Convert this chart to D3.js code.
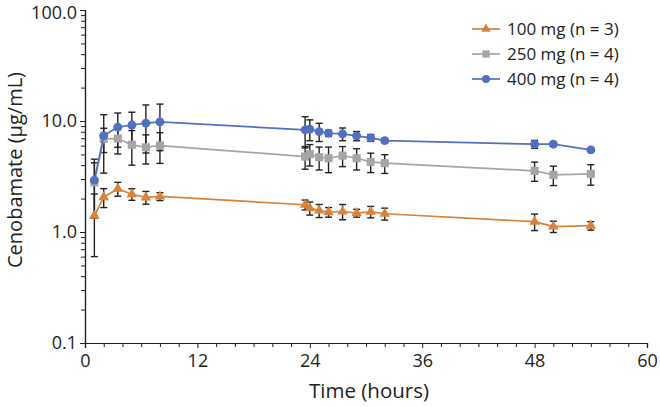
<!DOCTYPE html>
<html>
<head>
<meta charset="utf-8">
<script src="https://d3js.org/d3.v7.min.js"></script>
<style>
  body { margin: 0; background: #fff; }
  text { font-family: "Open Sans", sans-serif; fill: #222; }
</style>
</head>
<body>
<script>
// sampling times (hours)
var times = [1, 2, 3.5, 5, 6.5, 8, 23.5, 24, 25, 26, 27.5, 29, 30.5, 32, 48, 50, 54]

// mean concentrations (µg/mL) and SD per dose group
var mean100 = [1.40, 2.06, 2.45, 2.19, 2.05, 2.09, 1.76, 1.64, 1.56, 1.51, 1.53, 1.48, 1.52, 1.46, 1.24, 1.12, 1.14]
var sd100   = [0.80, 0.40, 0.35, 0.26, 0.27, 0.17, 0.18, 0.22, 0.21, 0.15, 0.24, 0.12, 0.18, 0.18, 0.21, 0.13, 0.10]
var mean250 = [2.80, 6.90, 6.95, 6.10, 5.80, 6.00, 4.78, 5.03, 4.72, 4.62, 4.88, 4.62, 4.28, 4.17, 3.56, 3.27, 3.34]
var sd250   = [1.40, 1.70, 1.90, 2.10, 1.70, 1.85, 1.10, 1.10, 1.10, 1.20, 1.00, 1.00, 0.85, 0.80, 0.70, 0.65, 0.70]
var mean400 = [2.93, 7.39, 8.80, 9.20, 9.55, 9.80, 8.32, 8.44, 8.03, 7.76, 7.65, 7.34, 7.05, 6.66, 6.18, 6.18, 5.50]
var sd400   = [1.60, 4.00, 3.00, 2.80, 4.40, 4.40, 2.60, 1.80, 1.50, 0.50, 1.00, 0.70, 0.50, 0.30, 0.50, 0.20, 0.15]

var seriesNames = ['100 mg (n = 3)', '250 mg (n = 4)', '400 mg (n = 4)']
var xTicks = [0, 12, 24, 36, 48, 60]
var yTicks = [0.1, 1, 10, 100]

var series = [
  {name: seriesNames[0], mean: mean100, sd: sd100, color: '#d9823b', shape: d3.symbolTriangle, size: 48},
  {name: seriesNames[1], mean: mean250, sd: sd250, color: '#a5a5a5', shape: d3.symbolSquare, size: 66},
  {name: seriesNames[2], mean: mean400, sd: sd400, color: '#5170c1', shape: d3.symbolCircle, size: 62}
]

var W = 660, H = 407
var svg = d3.select('body').append('svg').attr('width', W).attr('height', H)

var x = d3.scaleLinear().domain([0, 60]).range([85, 647])
var y = d3.scaleLog().domain([0.1, 100]).range([343, 10])

// minor ticks
var xMinor = d3.range(0, 61, 2).filter(function(d){ return d % 12 != 0 })
var yMinor = []
yTicks.slice(0, 3).forEach(function(dec){ for (var k = 2; k <= 9; k++) yMinor.push(dec * k) })

var gx = svg.append('g').attr('transform', 'translate(0,' + y(0.1) + ')')
gx.call(d3.axisBottom(x).tickValues(xTicks).tickSize(5).tickPadding(5).tickFormat(d3.format('d')))
svg.append('g').attr('transform', 'translate(0,' + y(0.1) + ')')
  .call(d3.axisBottom(x).tickValues(xMinor).tickSize(4).tickFormat(''))

var gy = svg.append('g').attr('transform', 'translate(' + x(0) + ',0)')
gy.call(d3.axisLeft(y).tickValues(yTicks).tickSize(5).tickPadding(3).tickFormat(function(d){ return d.toFixed(1) }))
svg.append('g').attr('transform', 'translate(' + x(0) + ',0)')
  .call(d3.axisLeft(y).tickValues(yMinor).tickSize(4).tickFormat(''))

svg.selectAll('.domain').attr('stroke', '#222').attr('stroke-width', 1.2)
svg.selectAll('.tick line').attr('stroke', '#222').attr('stroke-width', 1)
svg.selectAll('.tick text').style('font-size', '18px').attr('fill', '#222')
gx.selectAll('.tick text').attr('dy', '0.8em')
// keep the top label inside the picture
gy.selectAll('.tick text').filter(function(d){ return d == 100 }).attr('dy', '0.45em')

// error bars
series.forEach(function(s){
  var g = svg.append('g')
  times.forEach(function(t, i){
    var hi = s.mean[i] + s.sd[i], lo = Math.max(s.mean[i] - s.sd[i], 0.11)
    var cx = x(t)
    g.append('line').attr('x1', cx).attr('x2', cx).attr('y1', y(hi)).attr('y2', y(lo))
      .attr('stroke', '#222').attr('stroke-width', 1.4)
    ;[hi, lo].forEach(function(v){
      g.append('line').attr('x1', cx - 3.5).attr('x2', cx + 3.5).attr('y1', y(v)).attr('y2', y(v))
        .attr('stroke', '#222').attr('stroke-width', 1.4)
    })
  })
})

// lines and markers
var line = d3.line().x(function(d, i){ return x(times[i]) }).y(function(d){ return y(d) })
series.forEach(function(s){
  svg.append('path').datum(s.mean).attr('d', line)
    .attr('fill', 'none').attr('stroke', s.color).attr('stroke-width', 1.7)
  svg.selectAll(null).data(s.mean).enter().append('path')
    .attr('d', d3.symbol().type(s.shape).size(s.size))
    .attr('transform', function(d, i){ return 'translate(' + x(times[i]) + ',' + y(d) + ')' })
    .attr('fill', s.color)
})

// legend
var leg = svg.append('g')
series.forEach(function(s, i){
  var ly = 29 + i * 25
  leg.append('line').attr('x1', 472).attr('x2', 500).attr('y1', ly).attr('y2', ly)
    .attr('stroke', s.color).attr('stroke-width', 1.7)
  leg.append('path').attr('d', d3.symbol().type(s.shape).size(s.size * 0.8))
    .attr('transform', 'translate(486,' + ly + ')').attr('fill', s.color)
  leg.append('text').attr('x', 507).attr('y', ly).attr('dy', '0.35em')
    .style('font-size', '17px').text(s.name)
})

// axis titles
svg.append('text').attr('x', (x(0) + x(60)) / 2 + 3).attr('y', 398)
  .attr('text-anchor', 'middle').style('font-size', '20.5px').text('Time (hours)')
svg.append('text').attr('transform', 'translate(22,170) rotate(-90)')
  .attr('text-anchor', 'middle').style('font-size', '20px').text('Cenobamate (µg/mL)')
</script>
</body>
</html>
